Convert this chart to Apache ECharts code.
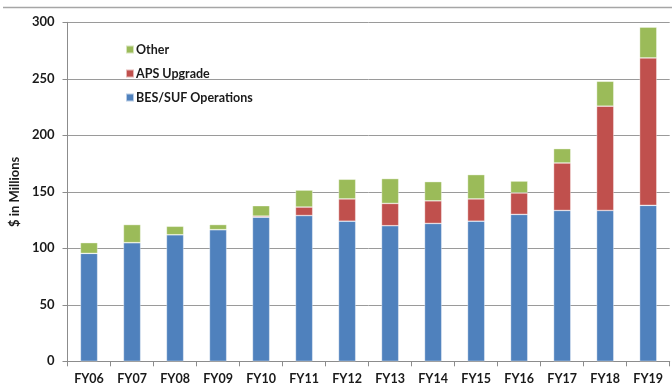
<!DOCTYPE html>
<html><head><meta charset="utf-8">
<script src="https://cdn.jsdelivr.net/npm/echarts@6/dist/echarts.min.js"></script>
<style>html,body{margin:0;padding:0;background:#fff}#c{width:672px;height:390px}</style>
</head><body><div id="c"></div>
<script>
const categories = ['FY06','FY07','FY08','FY09','FY10','FY11','FY12','FY13','FY14','FY15','FY16','FY17','FY18','FY19'];
const besSuf = [95.5,105,112,116.5,127.5,129,124,120,122,124,130,133.5,133.5,138];
const apsUpgrade = [0,0,0,0,1,7.5,19.7,19.7,20,19.7,19,42,92.3,130.5];
const other = [9.5,16,7.5,4.5,9.2,15,17.4,22,17,21.5,10.5,12.7,22,27.2];
const yTicks = [0,50,100,150,200,250,300];

const font = 'Lato';
const chart = echarts.init(document.getElementById('c'), null, {renderer:'canvas'});
const barStyle = c => ({color:c, borderColor:'rgba(255,255,255,0.6)', borderWidth:0.6});
chart.setOption({
  animation:false,
  textStyle:{fontFamily:font},
  graphic:[{type:'line', shape:{x1:3,y1:7.5,x2:672,y2:7.5}, style:{stroke:'#a6a6a6', lineWidth:1.3}}],
  grid:{left:66.7, right:2.3, top:22.3, bottom:28.7, containLabel:false},
  legend:{
    data:['Other','APS Upgrade','BES/SUF Operations'],
    orient:'vertical', left:120, top:38, itemWidth:8, itemHeight:8, itemGap:11,
    icon:'rect',
    textStyle:{fontFamily:font, fontWeight:'bold', fontSize:12.5, color:'#1a1a1a', padding:[0,0,0,-3]}
  },
  xAxis:{
    type:'category', data:categories,
    axisLine:{lineStyle:{color:'#8c8c8c', width:1}},
    axisTick:{show:true, length:5, lineStyle:{color:'#8c8c8c'}},
    axisLabel:{fontFamily:font, fontWeight:'bold', fontSize:12.5, color:'#1a1a1a', margin:11}
  },
  yAxis:{
    type:'value', min:yTicks[0], max:yTicks[yTicks.length-1], interval:50,
    name:'$ in Millions', nameLocation:'middle', nameGap:39, nameRotate:90,
    nameTextStyle:{fontFamily:font, fontWeight:'bold', fontSize:13, color:'#1a1a1a'},
    axisLine:{show:true, lineStyle:{color:'#8c8c8c', width:1}},
    axisTick:{show:true, length:5, lineStyle:{color:'#8c8c8c'}},
    axisLabel:{fontFamily:font, fontWeight:'bold', fontSize:13, color:'#1a1a1a', margin:13},
    splitLine:{lineStyle:{color:'#9a9a9a', width:1}}
  },
  series:[
    {name:'BES/SUF Operations', type:'bar', stack:'t', data:besSuf, barWidth:'40%', itemStyle:barStyle('#4F81BD')},
    {name:'APS Upgrade', type:'bar', stack:'t', data:apsUpgrade, barWidth:'40%', itemStyle:barStyle('#C0504D')},
    {name:'Other', type:'bar', stack:'t', data:other, barWidth:'40%', itemStyle:barStyle('#9BBB59')}
  ]
});
</script></body></html>
